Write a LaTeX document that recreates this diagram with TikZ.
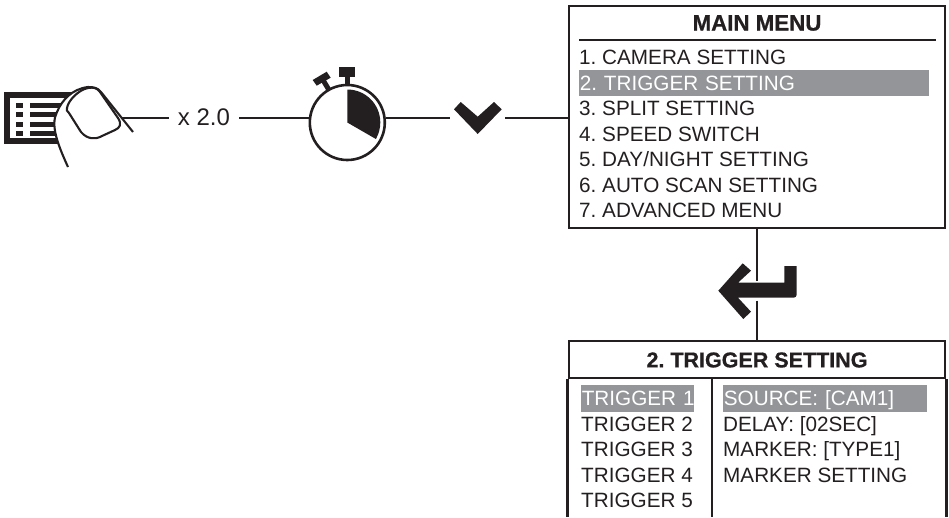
\documentclass[tikz,border=0pt]{standalone}
\usepackage{fontspec}
\setmainfont{Liberation Sans}
\newfontfamily\heavyfont[FakeBold=0.7]{Liberation Sans Bold}
\usepackage{tikz}
\definecolor{ink}{HTML}{231F20}
\definecolor{selgray}{HTML}{939598}
\tikzstyle{panel}=[draw=ink, line width=2.8pt, inner sep=0pt, minimum width=376pt]
\tikzstyle{wire}=[draw=ink, line width=2.4pt]
\tikzstyle{icon}=[fill=ink, draw=none]
\tikzstyle{gap}=[inner sep=0pt, minimum size=0pt]
\tikzstyle{title}=[inner sep=0pt, text=ink, font=\fontsize{21.5}{24}\selectfont\heavyfont]
\tikzstyle{item}=[anchor=west, inner xsep=1pt, inner ysep=0pt, text=ink, text height=14pt, text depth=0pt, font=\fontsize{20.7}{24}\selectfont]
\tikzstyle{selected}=[item, align=left, fill=selgray, text=white, minimum height=26.5pt]

\begin{document}
\frenchspacing
\begin{tikzpicture}[x=1pt, y=-1pt]
        \useasboundingbox (0,0) rectangle (949,517);
        % main menu
        \node[panel, minimum height=222pt]      (mainmenu) at (757,117) {};
        \node[title, font=\fontsize{22.3}{24}\selectfont\heavyfont] (maintitle) at (757,23) {MAIN MENU};
        \coordinate                             (ruleleft) at (579,40);
        \coordinate                             (ruleright) at (936,40);
        \draw[wire] (ruleleft) -- (ruleright);
        \node[item]                             (main1) at (578,57) {1. CAMERA SETTING};
        \node[selected, text width=348pt]       (main2) at (578.6,83) {2. TRIGGER SETTING};
        \node[item]                             (main3) at (578,108.7) {3. SPLIT SETTING};
        \node[item]                             (main4) at (578,134) {4. SPEED SWITCH};
        \node[item]                             (main5) at (578,159.7) {5. DAY/NIGHT SETTING};
        \node[item]                             (main6) at (578,185) {6. AUTO SCAN SETTING};
        \node[item]                             (main7) at (578,210.3) {7. ADVANCED MENU};
        % trigger menu, open at the bottom
        \node[panel, minimum height=37pt]       (triggerhead) at (757,359.5) {};
        \node[title]                            (triggertitle) at (757,360) {2. TRIGGER SETTING};
        \coordinate                             (triggerend) at (712,517);
        \draw[panel] (triggerhead.south west) -- (triggerhead.south west |- triggerend);
        \draw[panel] (triggerhead.south east) -- (triggerhead.south east |- triggerend);
        \draw[panel] (triggerend |- triggerhead.south) -- (triggerend);
        \node[selected, text width=111.4pt]     (trigger1) at (580.6,398.3) {\mbox{TRIGGER 1}};
        \node[item]                             (trigger2) at (580,424) {TRIGGER 2};
        \node[item]                             (trigger3) at (580,449.5) {TRIGGER 3};
        \node[item]                             (trigger4) at (580,475) {TRIGGER 4};
        \node[item]                             (trigger5) at (580,500.5) {TRIGGER 5};
        \node[selected, text width=202.4pt]     (source) at (722.7,398.3) {SOURCE: [CAM1]};
        \node[item]                             (delay) at (722,424) {DELAY: [02SEC]};
        \node[item]                             (marker) at (722,449.5) {MARKER: [TYPE1]};
        \node[item]                             (markerset) at (722,475) {MARKER SETTING};
        % top row
        \coordinate                             (hand) at (120,117.7);
        \node[gap, inner xsep=9pt, text=ink, font=\fontsize{24}{28}\selectfont] (times) at (204,117.7) {x 2.0};
        \node[draw=ink, circle, line width=2.6pt, minimum size=75pt, inner sep=0pt] (timer) at (347.3,122.5) {};
        \node[gap, minimum width=55pt]          (chevron) at (477.7,117.7) {};
        \node[gap, minimum height=19pt]         (return) at (757,291) {};
        \draw[wire] (hand) -- (times);
        \draw[wire] (times) -- (times -| timer.west);
        \draw[wire] (timer.east |- chevron) -- (chevron);
        \draw[wire] (chevron) -- (mainmenu.west |- chevron);
        \draw[wire] (mainmenu.south -| return) -- (return);
        \draw[wire] (return) -- (triggerhead.north -| return);
        % stopwatch
        \fill[icon] (timer.center) -- ++(-90:33) arc[start angle=-90, end angle=30, radius=33] -- cycle;
        \fill[icon] (339.3,66.5) rectangle (355,76.5);
        \draw[wire, line width=5pt] (347.3,76) -- (347.3,85);
        \fill[icon] (312.7,80) -- (326.7,71.7) -- (330.7,77.7) -- (316.7,85.7) -- cycle;
        \draw[wire, line width=5pt] (323,80) -- (329,90);
        % chevron and return key
        \fill[icon] (454,109.3) -- (460.7,102) -- (477.7,116.7) -- (494,102) -- (501.7,109.3) -- (477.7,134) -- cycle;
        \fill[icon] (718.3,290.7) -- (742.7,263.3) -- (751,270.7) -- (738,282.7) -- (784.3,282.7) -- (784.3,266) -- (796.7,266)
            [rounded corners=3pt] -- (796.7,297.7) [sharp corners] -- (738,297.7) -- (751,311.7) -- (743.3,319) -- cycle;
        % menu icon under the finger
        \draw[icon, draw=ink, fill=none, line width=6pt] (7,95) rectangle (80,141);
        \fill[icon] (15.7,102.5) rectangle (22.7,107.5);
        \fill[icon] (15.7,111.8) rectangle (22.7,116.8);
        \fill[icon] (15.7,121.5) rectangle (22.7,126.5);
        \fill[icon] (15.7,130.8) rectangle (22.7,135.8);
        \fill[icon] (30,102.5) rectangle (70,107.5);
        \fill[icon] (30,111.8) rectangle (70,116.8);
        \fill[icon] (30,121.5) rectangle (70,126.5);
        \fill[icon] (30,130.8) rectangle (70,135.8);
        % finger
        \fill[white] (68,167) .. controls (58,145) and (50,125) .. (57,112) .. controls (62,100) and (72,89) .. (88,87)
            .. controls (94,87) and (98,88) .. (101,92) -- (133,132) -- (110,160) -- cycle;
        \draw[ink, line width=2.1pt] (68,167) .. controls (58,145) and (50,125) .. (57,112) .. controls (62,100) and (72,89) .. (88,87)
            .. controls (94,87) and (98,88) .. (101,92) -- (133,132);
        \draw[ink, line width=2.1pt] (67,108) .. controls (68,101) and (78,90) .. (88,88) .. controls (94,87) and (97,88) .. (100,92)
            -- (118,118) .. controls (122,124) and (120,128) .. (115,130) -- (102,136) .. controls (95,140) and (87,139) .. (81,132) -- (69,113) .. controls (67,111) and (66,110) .. (67,108) -- cycle;
    \end{tikzpicture}
\end{document}
